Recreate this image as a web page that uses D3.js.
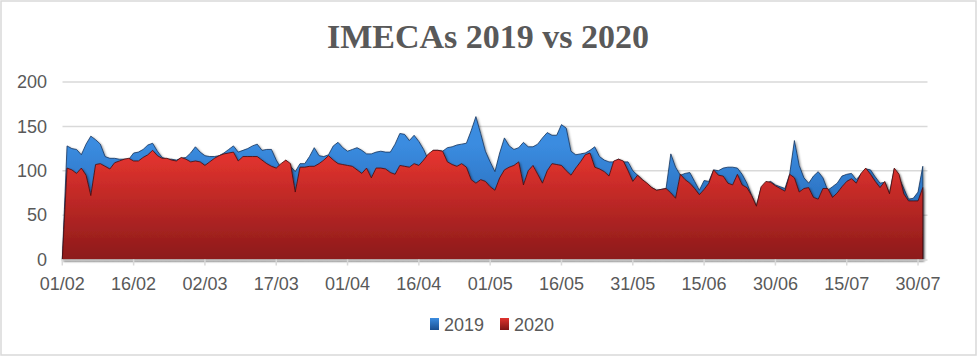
<!DOCTYPE html>
<html><head><meta charset="utf-8">
<script src="https://cdn.jsdelivr.net/npm/d3@7"></script>
<style>
html,body{margin:0;padding:0;background:#fff;}
svg{display:block;}
</style></head>
<body>
<svg id="chart" width="977" height="356"></svg>
<script>
// ---- data ----
const startDate = "2020-02-01";
const tickLabels = ["01/02","16/02","02/03","17/03","01/04","16/04","01/05","16/05","31/05","15/06","30/06","15/07","30/07"];
const yTicks = [0,50,100,150,200];
const seriesNames = ["2019","2020"];
const values2019 = [0,128,125,124,118,130,139,135,130,116,114,114,113,113,113,120,121,124,129,131,
  122,115,113,113,112,114,115,120,127,121,117,116,116,117,120,124,128,121,123,125,
  128,130,123,124,124,112,103,112,105,99,108,108,116,126,117,116,118,128,132,126,
  122,124,126,123,119,119,121,122,121,121,130,142,141,134,140,133,124,112,123,123,
  122,126,127,129,130,131,145,161,142,122,110,99,120,137,128,124,126,132,127,127,
  130,137,143,140,140,152,148,122,118,119,120,123,127,116,112,110,110,113,110,110,
  100,95,90,85,81,78,79,80,119,104,95,97,98,88,78,89,88,101,100,103,
  104,104,103,96,86,72,60,81,86,88,84,82,80,96,134,106,92,86,94,99,
  92,78,82,86,94,96,97,90,96,102,101,93,86,87,74,102,92,80,68,69,
  76,105];
const values2020 = [0,103,101,97,103,95,72,107,108,105,102,109,111,113,114,111,111,115,118,123,
  117,114,114,112,111,115,113,110,111,110,106,110,114,117,119,120,121,111,116,116,
  116,116,112,108,105,103,108,112,108,76,104,104,105,105,108,112,117,112,108,107,
  106,105,101,97,103,92,103,103,102,98,96,106,105,104,108,106,112,119,123,123,
  122,110,107,105,108,104,90,86,90,88,82,78,92,101,104,106,110,84,100,106,
  96,86,100,108,107,106,100,95,103,110,118,120,104,102,99,94,111,113,111,100,
  88,95,90,86,81,78,79,80,75,69,96,90,86,80,73,79,86,101,95,94,
  86,84,96,84,81,72,60,82,88,87,83,80,77,96,92,76,80,81,70,68,
  80,80,70,75,82,88,91,86,97,103,96,88,81,88,74,103,96,74,66,66,
  66,81];

// ---- chart ----
const svg = d3.select("#chart");
const W = 977, H = 356;
const textColor = "#595959";
const gridColor = "#d9d9d9";
const font = "'Liberation Sans', Arial, sans-serif";

svg.append("rect").attr("x",1).attr("y",1).attr("width",W-2).attr("height",H-2)
  .attr("fill","#fff").attr("stroke","#d9d9d9").attr("stroke-width",1.5);

const n = values2019.length;
const x = d3.scaleLinear().domain([0, n-1]).range([62.3, 62.3 + (n-1)*4.7541]);
const y = d3.scaleLinear().domain([0, 200]).range([259.5, 82]);
const plotLeft = 62.5, plotRight = 927.5;

const defs = svg.append("defs");
function grad(id, top, bottom){
  const g = defs.append("linearGradient").attr("id",id)
    .attr("gradientUnits","userSpaceOnUse").attr("x1",0).attr("y1",y(130)).attr("x2",0).attr("y2",y(0));
  g.append("stop").attr("offset","0%").attr("stop-color",top);
  g.append("stop").attr("offset","100%").attr("stop-color",bottom);
}
grad("gBlue","#3b8ce0","#1b58a3");
grad("gRed","#ec3631","#8c1a1a");
const f = defs.append("filter").attr("id","shadow").attr("x","-5%").attr("y","-5%").attr("width","110%").attr("height","110%");
f.append("feDropShadow").attr("dx",1.2).attr("dy",1.2).attr("stdDeviation",1).attr("flood-color","#000").attr("flood-opacity",0.45);

// title
svg.append("text").attr("x",488).attr("y",48).attr("text-anchor","middle")
  .attr("font-family","'Liberation Serif','Times New Roman',serif").attr("font-weight","bold")
  .attr("font-size",34).attr("fill",textColor).text("IMECAs 2019 vs 2020");

// gridlines + y labels
const yAxis = svg.append("g");
yTicks.forEach(t=>{
  if(t>0) yAxis.append("line").attr("x1",plotLeft).attr("x2",plotRight).attr("y1",y(t)).attr("y2",y(t))
    .attr("stroke",gridColor).attr("stroke-width",1.5);
  yAxis.append("text").attr("x",47).attr("y",y(t)).attr("dy","0.35em").attr("text-anchor","end")
    .attr("font-family",font).attr("font-size",18).attr("fill",textColor).text(t);
});

// areas
const area = d3.area().x((d,i)=>x(i)).y0(y(0)).y1(d=>y(d));
svg.append("path").datum(values2019).attr("d",area).attr("fill","url(#gBlue)")
  .attr("stroke","#17355e").attr("stroke-width",0.8).attr("filter","url(#shadow)");
svg.append("path").datum(values2020).attr("d",area).attr("fill","url(#gRed)")
  .attr("stroke","#4a0c0c").attr("stroke-width",0.8).attr("filter","url(#shadow)");

// x axis
const tickIdx = tickLabels.map((_,i)=>i*15);
const xAxis = svg.append("g");
xAxis.append("line").attr("x1",plotLeft-1).attr("x2",plotRight).attr("y1",y(0)+0.5).attr("y2",y(0)+0.5)
  .attr("stroke",gridColor).attr("stroke-width",1.5);
tickIdx.forEach((d,i)=>{
  xAxis.append("line").attr("x1",x(d)).attr("x2",x(d)).attr("y1",y(0)).attr("y2",y(0)+6)
    .attr("stroke",gridColor).attr("stroke-width",1.5);
  xAxis.append("text").attr("x",x(d)).attr("y",290).attr("text-anchor","middle")
    .attr("font-family",font).attr("font-size",18).attr("fill",textColor).text(tickLabels[i]);
});

// legend
const legend = svg.append("g");
function lgrad(id, top, bottom){
  const g = defs.append("linearGradient").attr("id",id).attr("x1",0).attr("y1",0).attr("x2",0).attr("y2",1);
  g.append("stop").attr("offset","0%").attr("stop-color",top);
  g.append("stop").attr("offset","100%").attr("stop-color",bottom);
}
lgrad("lgBlue","#3b8ce0","#1b4f8f");
lgrad("lgRed","#e0332e","#7d1616");
const legItems = [{name:seriesNames[0], fill:"url(#lgBlue)", x:430},{name:seriesNames[1], fill:"url(#lgRed)", x:500}];
legItems.forEach(it=>{
  legend.append("rect").attr("x",it.x).attr("y",318).attr("width",9).attr("height",12).attr("fill",it.fill);
  legend.append("text").attr("x",it.x+14).attr("y",331).attr("font-family",font).attr("font-size",18)
    .attr("fill",textColor).text(it.name);
});
</script>
</body></html>
